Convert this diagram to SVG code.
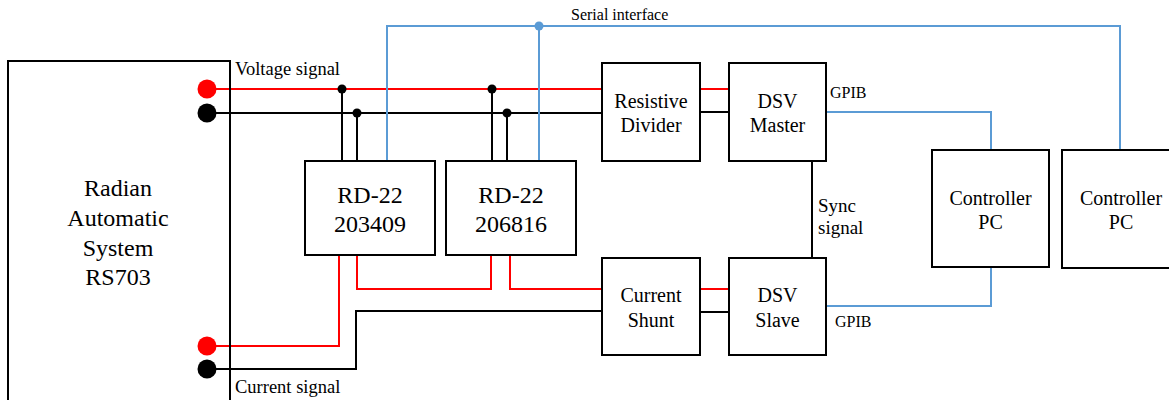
<svg xmlns="http://www.w3.org/2000/svg" width="1169" height="400" viewBox="0 0 1169 400" font-family="'Liberation Serif', 'Times New Roman', serif">
<style>
.box{fill:#fff;stroke:#000;stroke-width:2}
text{font-family:'Liberation Serif','Times New Roman',serif;fill:#000}
.t{text-anchor:middle}
.r{fill:none;stroke:#ff0000;stroke-width:2}
.k{fill:none;stroke:#000;stroke-width:2}
.b{fill:none;stroke:#5b9bd5;stroke-width:2}
</style>
<rect width="1169" height="400" fill="#fff"/>
<g id="connectors">
<path class="r" d="M207 89H602M700 89H729"/>
<path class="k" d="M207 113H602M700 112H729"/>
<path class="k" d="M342 89V161M357 113V161M492 89V161M507 113V161"/>
<path class="b" d="M387 161V26H1120V150M539 26V161"/>
<path class="b" d="M826 112H991V150M991 267V306H826"/>
<path class="r" d="M339 255V346H207M357 255V289H491V255M510 255V289H602M700 289H729"/>
<path class="k" d="M207 369H356V311H602M700 312H729"/>
<path class="k" d="M812 150V269"/>
<circle cx="342" cy="89" r="4.5"/>
<circle cx="357" cy="113" r="4.5"/>
<circle cx="492" cy="89" r="4.5"/>
<circle cx="507" cy="113" r="4.5"/>
<circle cx="539" cy="26" r="4.5" fill="#5b9bd5"/>
<circle cx="812" cy="150" r="4.5"/>
<circle cx="812" cy="269" r="4.5"/>
<text x="571" y="20" font-size="16">Serial interface</text>
<text x="235" y="75" font-size="18.5">Voltage signal</text>
<text x="235" y="393" font-size="18.5">Current signal</text>
<text x="830" y="98" font-size="16">GPIB</text>
<text x="835" y="327" font-size="16">GPIB</text>
<text x="818" y="212" font-size="19">Sync</text>
<text x="818" y="234" font-size="19">signal</text>
</g>
<g id="radian">
<rect x="8" y="61" width="222" height="350" fill="none" stroke="#000" stroke-width="2"/>
<text class="t" x="118" y="196" font-size="24">Radian</text>
<text class="t" x="118" y="226" font-size="24">Automatic</text>
<text class="t" x="118" y="256" font-size="24">System</text>
<text class="t" x="118" y="285" font-size="24">RS703</text>
<circle cx="207" cy="89" r="9.5" fill="#ff0000"/>
<circle cx="207" cy="113" r="9.5" fill="#000"/>
<circle cx="207" cy="346" r="9.5" fill="#ff0000"/>
<circle cx="207" cy="369" r="9.5" fill="#000"/>
</g>
<g id="rd1">
<rect class="box" x="305" y="161" width="130" height="94"/>
<text class="t" x="370" y="203" font-size="24">RD-22</text>
<text class="t" x="370" y="232" font-size="24">203409</text>
</g>
<g id="rd2">
<rect class="box" x="446" y="161" width="130" height="94"/>
<text class="t" x="511" y="203" font-size="24">RD-22</text>
<text class="t" x="511" y="232" font-size="24">206816</text>
</g>
<g id="divider">
<rect class="box" x="602" y="63" width="98" height="98"/>
<text class="t" x="651" y="108" font-size="20">Resistive</text>
<text class="t" x="651" y="132" font-size="20">Divider</text>
</g>
<g id="dsv-master">
<rect class="box" x="729" y="63" width="97" height="98"/>
<text class="t" x="777.5" y="108" font-size="20">DSV</text>
<text class="t" x="777.5" y="132" font-size="20">Master</text>
</g>
<g id="shunt">
<rect class="box" x="602" y="258" width="98" height="97"/>
<text class="t" x="651" y="302" font-size="20">Current</text>
<text class="t" x="651" y="327" font-size="20">Shunt</text>
</g>
<g id="dsv-slave">
<rect class="box" x="729" y="258" width="97" height="97"/>
<text class="t" x="777.5" y="302" font-size="20">DSV</text>
<text class="t" x="777.5" y="327" font-size="20">Slave</text>
</g>
<g id="pc1">
<rect class="box" x="932" y="150" width="117" height="117"/>
<text class="t" x="990.5" y="205" font-size="20">Controller</text>
<text class="t" x="990.5" y="229" font-size="20">PC</text>
</g>
<g id="pc2">
<rect class="box" x="1062" y="150" width="118" height="118"/>
<text class="t" x="1121" y="205" font-size="20">Controller</text>
<text class="t" x="1121" y="229" font-size="20">PC</text>
</g>
</svg>
